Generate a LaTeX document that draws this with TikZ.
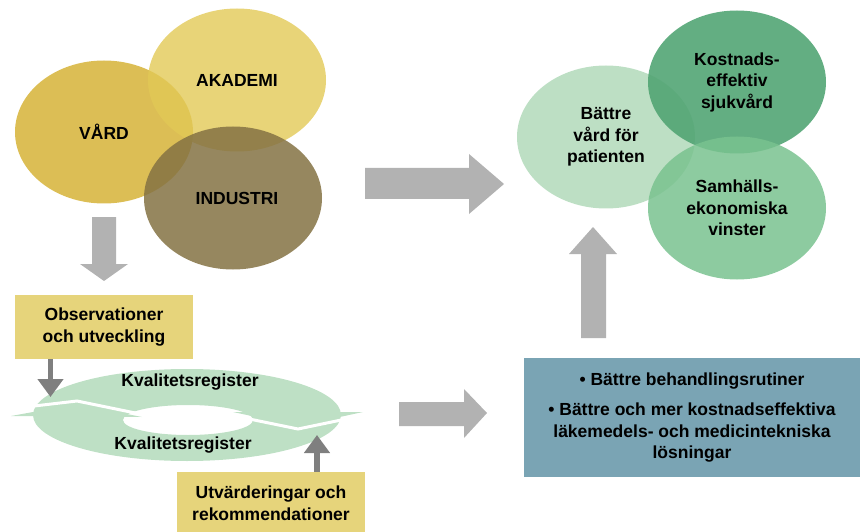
\documentclass[tikz,border=0pt]{standalone}
\usepackage{fontspec}
\setmainfont{Liberation Sans}
\usetikzlibrary{shapes.geometric,arrows.meta}

\definecolor{vardgold}{HTML}{DCBE55}
\definecolor{akagold}{HTML}{E2C956}
\definecolor{indbrown}{HTML}{847243}
\definecolor{battregreen}{HTML}{BDDFC4}
\definecolor{kostgreen}{HTML}{52A574}
\definecolor{samgreen}{HTML}{79C28F}
\definecolor{ringgreen}{HTML}{BEE0C5}
\definecolor{noteyellow}{HTML}{E6D47B}
\definecolor{resultblue}{HTML}{7AA4B4}
\definecolor{arrowgray}{HTML}{B2B2B2}
\definecolor{pointergray}{HTML}{7F7F7F}

\tikzset{
  txt/.style={font=\bfseries\fontsize{17.5}{21.5}\selectfont, align=center},
  blob/.style={txt, ellipse, minimum width=178pt, minimum height=143pt, inner sep=0pt},
  notebox/.style={txt, rectangle, fill=noteyellow, minimum width=178pt, minimum height=64pt, inner sep=0pt},
  bigarrow/.style={fill=arrowgray},
  pointer/.style={draw=pointergray, line width=5.5pt, -{Triangle[width=25pt,length=18pt]}},
  gap/.style={draw=white, line width=3pt, line join=miter}
}

\begin{document}
\begin{tikzpicture}[x=1pt,y=-1pt]
	\useasboundingbox (0,0) rectangle (860,532);

	% partners
	\node[blob, fill=vardgold] (vard) at (104,132) {VÅRD};
	\node[blob, fill=akagold, fill opacity=0.8, text opacity=1] (akademi) at (237,80) {AKADEMI};
	\node[blob, fill=indbrown, fill opacity=0.85, text opacity=1] (industri) at (233,198) {\hspace{8pt}INDUSTRI};

	% outcomes
	\node[blob, fill=battregreen] (battre) at (606,137) {Bättre\\vård för\\patienten};
	\node[blob, fill=kostgreen, fill opacity=0.9, text opacity=1] (kostnad) at (737,82) {Kostnads-\\effektiv\\sjukvård};
	\node[blob, fill=samgreen, fill opacity=0.85, text opacity=1] (samhalle) at (737,208) {Samhälls-\\ekonomiska\\vinster};

	% block arrows
	\fill[bigarrow] (92,217) -- (116,217) -- (116,264) -- (128,264) -- (104,281) -- (80,264) -- (92,264) -- cycle;
	\fill[bigarrow] (365,168) -- (469,168) -- (469,154) -- (504,184) -- (469,214) -- (469,199) -- (365,199) -- cycle;
	\fill[bigarrow] (399,402) -- (464,402) -- (464,389) -- (487,413) -- (464,438) -- (464,426) -- (399,426) -- cycle;
	\fill[bigarrow] (581,338) -- (581,254) -- (569,254) -- (593,227) -- (617,254) -- (606,254) -- (606,338) -- cycle;

	% register cycle
	\fill[ringgreen, even odd rule] (187,415) ellipse [x radius=154, y radius=46]
		(188,420) ellipse [x radius=65, y radius=15];
	\draw[gap] (0,410) -- (77,401) -- (150,416);
	\draw[gap] (225,414) -- (298,429) -- (370,414);
	\fill[ringgreen] (11,416) -- (77,404) -- (142,417) -- cycle;
	\fill[ringgreen] (233,412) -- (298,426) -- (363,412) -- cycle;
	\node[txt] (reg1) at (190,382) {Kvalitetsregister};
	\node[txt] (reg2) at (183,445) {Kvalitetsregister};

	% inputs
	\node[notebox] (obs) at (104,327) {Observationer\\och utveckling};
	\node[notebox, minimum width=188pt, minimum height=62pt] (utv) at (271,503) {Utvärderingar och\\rekommendationer};
	\coordinate (obsin) at (50.5,397);
	\coordinate (utvin) at (317,435);
	\draw[pointer] (obsin |- obs.south) -- (obsin);
	\draw[pointer] (utvin |- utv.north) -- (utvin);

	% result
	\node[txt, fill=resultblue, minimum width=336pt, minimum height=119pt, inner sep=0pt] (result) at (692,417.5)
		{• Bättre behandlingsrutiner\\[9pt]• Bättre och mer kostnadseffektiva\\läkemedels- och medicintekniska\\lösningar};
\end{tikzpicture}
\end{document}
